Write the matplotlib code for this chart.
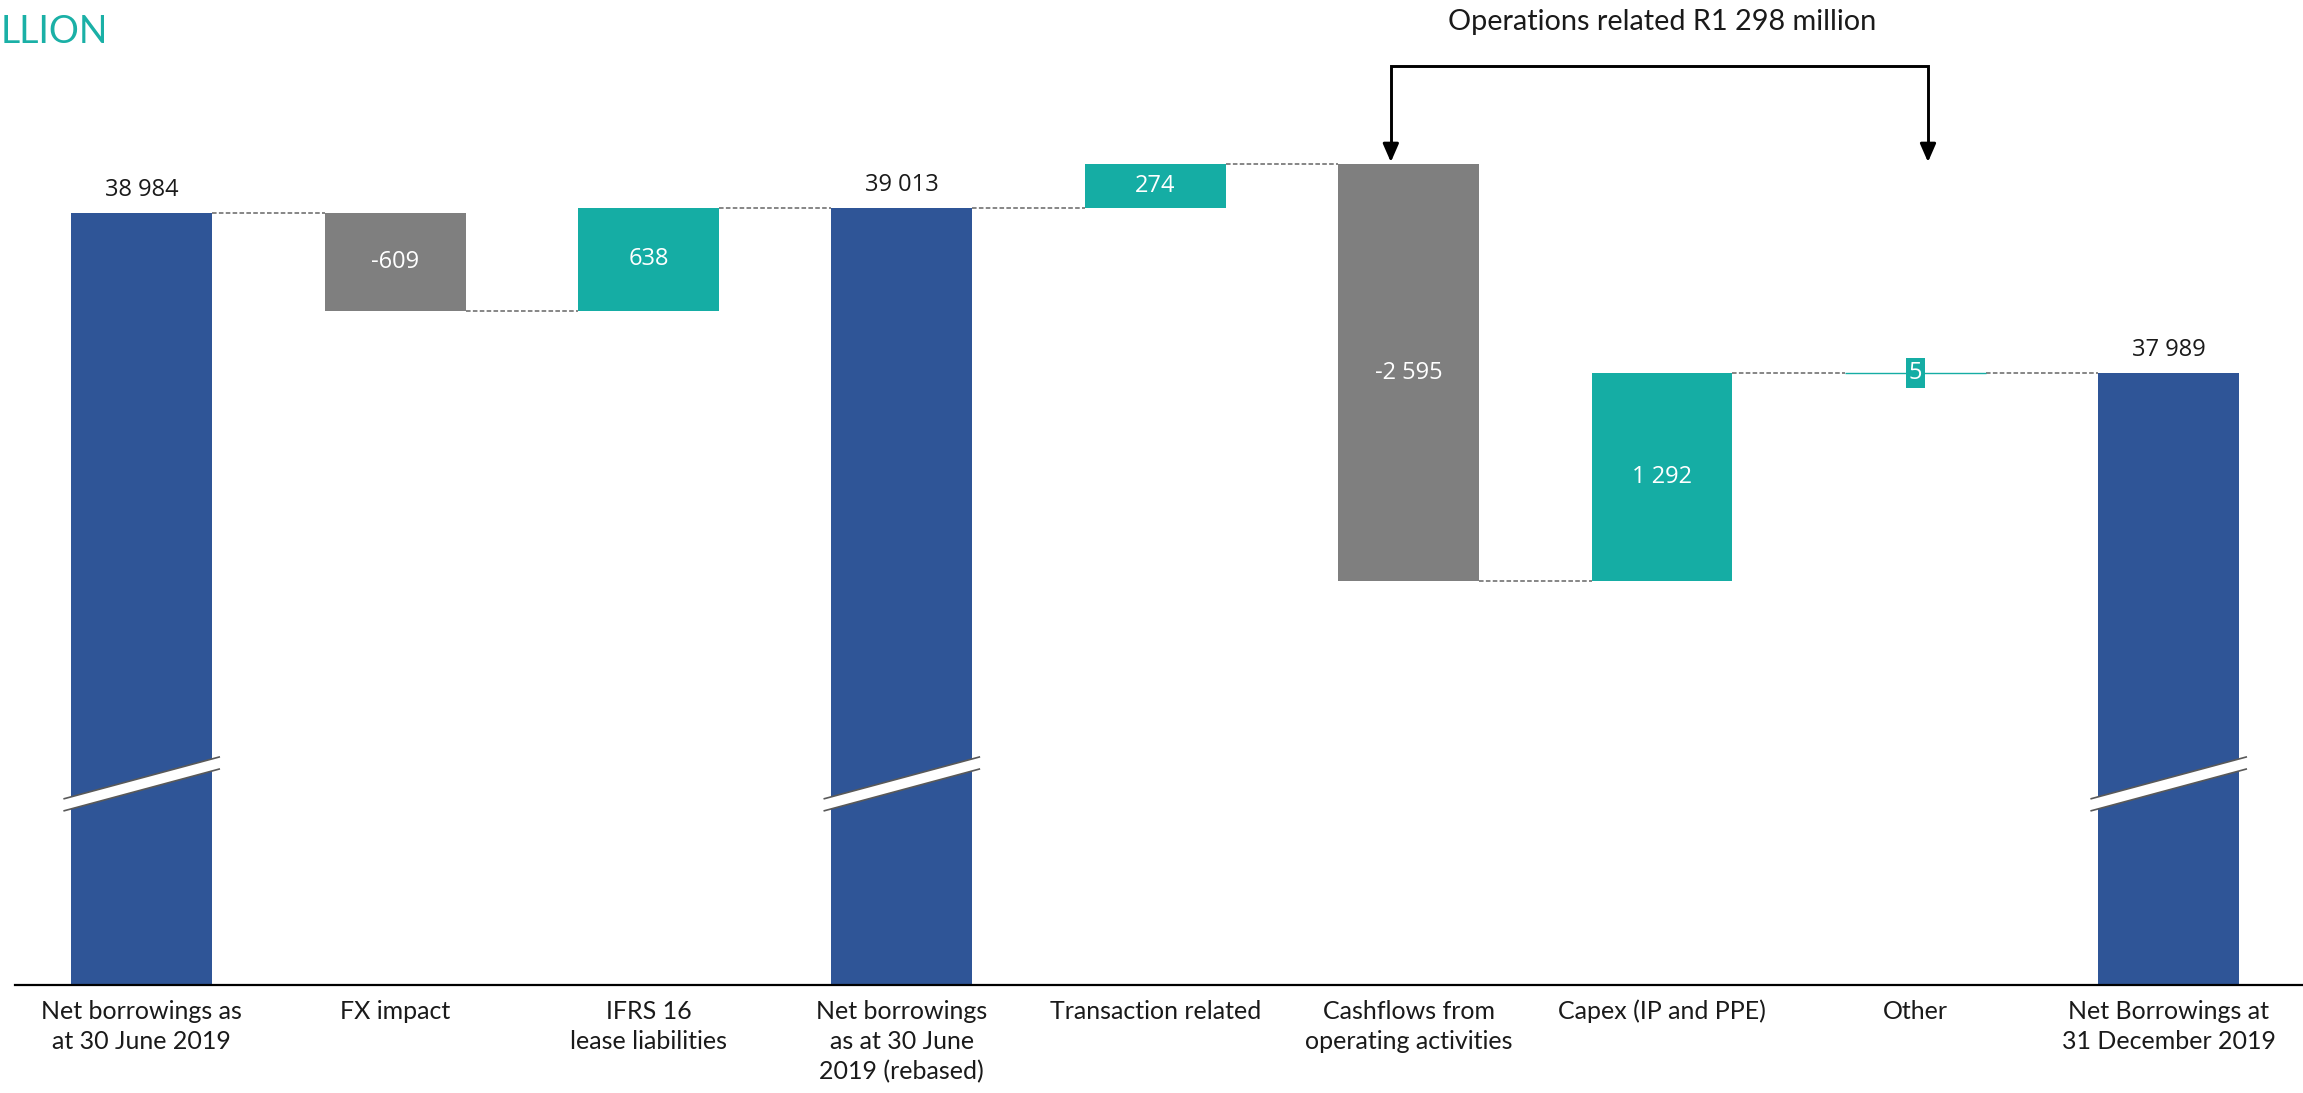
import matplotlib
matplotlib.use("Agg")
import matplotlib.pyplot as plt
from matplotlib.patches import Polygon

# Net borrowings bridge, R million
categories = [
    "Net borrowings as\nat 30 June 2019",
    "FX impact",
    "IFRS 16\nlease liabilities",
    "Net borrowings\nas at 30 June\n2019 (rebased)",
    "Transaction related",
    "Cashflows from\noperating activities",
    "Capex (IP and PPE)",
    "Other",
    "Net Borrowings at\n31 December 2019",
]
values = [38984, -609, 638, 39013, 274, -2595, 1292, 5, 37989]
is_total = [True, False, False, True, False, False, False, False, True]
bracket_text = "Operations related R1 298 million"
unit_title = "LLION"

BLUE = "#2F5597"
GREY = "#7F7F7F"
TEAL = "#15ADA4"
DASH = "#666666"

LABEL_FONT = ["Lato", "DejaVu Sans"]
VALUE_FONT = ["Open Sans", "DejaVu Sans"]


def fmt(v):
    return f"{v:,}".replace(",", " ")


W, H = 2303, 1093
fig = plt.figure(figsize=(W / 100, H / 100), dpi=100)
ax = fig.add_axes([15 / W, 108 / H, 1 - 15 / W, 985 / H])

bar_w = 0.556
bottoms, heights, colors, levels = [], [], [], []
level = 0
for v, tot in zip(values, is_total):
    if tot:
        bottoms.append(0)
        heights.append(v)
        colors.append(BLUE)
        level = v
    else:
        start, end = level, level + v
        bottoms.append(min(start, end))
        heights.append(abs(v))
        colors.append(TEAL if v > 0 else GREY)
        level = end
    levels.append(level)

x = list(range(len(values)))
bars = ax.bar(x, heights, bottom=bottoms, width=bar_w, color=colors,
              linewidth=0, zorder=2)
# the tiny "Other" movement shows up as a thin line
bars[7].set_edgecolor(TEAL)
bars[7].set_linewidth(1.0)

ax.set_xlim(-0.5, 8.53)
ax.set_ylim(34180, 40307)

# dashed connectors between consecutive bars
for i in range(len(values) - 1):
    ax.plot([i + bar_w / 2, i + 1 - bar_w / 2], [levels[i], levels[i]],
            color=DASH, lw=1.1, linestyle=(0, (3.0, 1.5)), zorder=1)

# value labels
for i, (v, tot) in enumerate(zip(values, is_total)):
    if tot:
        ax.annotate(fmt(v), (i, bottoms[i] + heights[i]), xytext=(0, 8),
                    textcoords="offset points", ha="center", va="bottom",
                    fontsize=17, family=VALUE_FONT, color="#1A1A1A", zorder=4)
    elif i == 7:
        ax.text(i, bottoms[i] + heights[i] / 2, fmt(v), ha="center",
                va="center", fontsize=17, family=VALUE_FONT, color="white",
                zorder=4,
                bbox=dict(boxstyle="square,pad=0.12", fc=TEAL, ec="none"))
    else:
        ax.text(i, bottoms[i] + heights[i] / 2, fmt(v), ha="center",
                va="center", fontsize=17, family=VALUE_FONT, color="white",
                zorder=4)

# axis break marks on the total bars
hw = bar_w / 2 + 0.031
yc, k, t = 35431, 424, 75
for i, tot in enumerate(is_total):
    if not tot:
        continue
    lo_l, lo_r = yc - k * hw - t / 2, yc + k * hw - t / 2
    poly = Polygon([(i - hw, lo_l), (i + hw, lo_r), (i + hw, lo_r + t),
                    (i - hw, lo_l + t)], closed=True, fc="white", ec="none",
                   zorder=3)
    ax.add_patch(poly)
    for off in (0, t):
        ax.plot([i - hw, i + hw], [lo_l + off, lo_r + off], color="#595959",
                lw=1.2, zorder=3, solid_capstyle="butt")

# bracket over operations-related movements
x1, x2 = 5 - 0.07, 7 + 0.05
y_top = 39896
y_tip = levels[4] + 12
ax.plot([x1, x1, x2, x2], [y_tip + 100, y_top, y_top, y_tip + 100],
        color="black", lw=2.1, solid_joinstyle="miter", zorder=4)
for xa in (x1, x2):
    ax.annotate("", xy=(xa, y_tip), xytext=(xa, y_tip + 110),
                arrowprops=dict(arrowstyle="-|>,head_length=0.55,head_width=0.24",
                                color="black", lw=2.1, shrinkA=0, shrinkB=0,
                                mutation_scale=20), zorder=4)
ax.text(6, 40120, bracket_text, ha="center", va="baseline", fontsize=20.8,
        family=LABEL_FONT, color="#1A1A1A")

# axes styling
for s in ("top", "right", "left"):
    ax.spines[s].set_visible(False)
ax.spines["bottom"].set_color("black")
ax.spines["bottom"].set_linewidth(1.6)
ax.spines["bottom"].set_zorder(5)
ax.set_yticks([])
ax.set_xticks(x)
ax.set_xticklabels(categories, fontsize=18, family=LABEL_FONT,
                   color="#1A1A1A", linespacing=1.38)
ax.tick_params(axis="x", length=0, pad=10.5)

fig.text(1 / W, 1 - 43 / H, unit_title, ha="left", va="baseline",
         fontsize=27, family=LABEL_FONT, color="#1AB0A6")

fig.savefig("out.png", dpi=100)
